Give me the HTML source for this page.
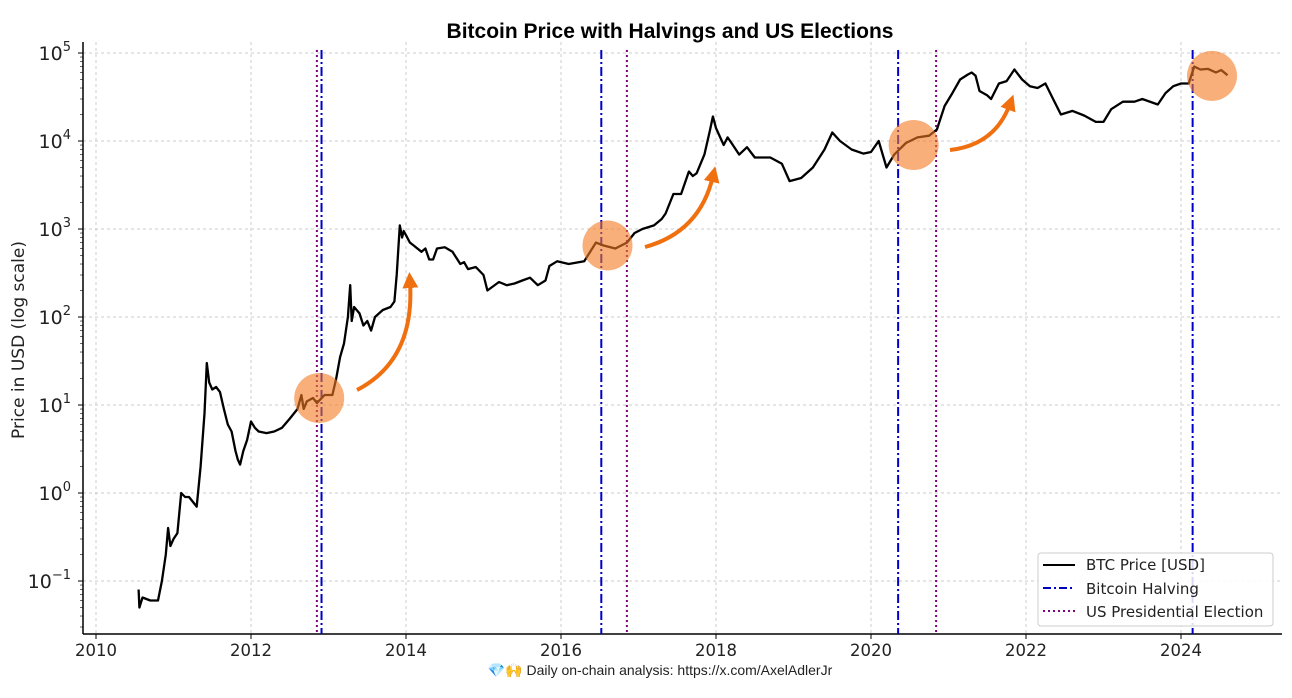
<!DOCTYPE html>
<html><head><meta charset="utf-8"><style>
body{margin:0;background:#fff;width:1292px;height:693px;overflow:hidden;font-family:"Liberation Sans","DejaVu Sans",sans-serif;}
svg text{font-family:"DejaVu Sans","Liberation Sans",sans-serif;}
</style></head><body>
<svg id="chart" width="1292" height="693" xmlns="http://www.w3.org/2000/svg">
<text x="670" y="38" text-anchor="middle" font-size="21" font-weight="bold" style="font-family:'Liberation Sans',sans-serif">Bitcoin Price with Halvings and US Elections</text>
<g id="grid"></g><g id="axes"></g><g id="marks"></g>
<text transform="translate(24,340) rotate(-90)" text-anchor="middle" font-size="17" fill="#222">Price in USD (log scale)</text>
<text x="660" y="675" text-anchor="middle" font-size="14" fill="#222" style="font-family:'Liberation Sans','Noto Sans CJK JP',sans-serif">💎🙌 Daily on-chain analysis: https://x.com/AxelAdlerJr</text>
<g>
<rect x="1038" y="553" width="235" height="73" rx="3" fill="#fff" fill-opacity="0.85" stroke="#ccc"/>
<line x1="1043" y1="565" x2="1075" y2="565" stroke="#000" stroke-width="2"/>
<text x="1086" y="570" font-size="15" fill="#222">BTC Price [USD]</text>
<line x1="1043" y1="588" x2="1075" y2="588" stroke="#0000c0" stroke-width="2" stroke-dasharray="8,3,2,3"/>
<text x="1086" y="594" font-size="15" fill="#222">Bitcoin Halving</text>
<line x1="1043" y1="611" x2="1075" y2="611" stroke="#800080" stroke-width="2" stroke-dasharray="2,3"/>
<text x="1086" y="617" font-size="15" fill="#222">US Presidential Election</text>
</g>
</svg>
<script>
const priceYears=[2010.55,2010.56,2010.6,2010.7,2010.8,2010.85,2010.9,2010.93,2010.96,2011.0,2011.05,2011.1,2011.15,2011.2,2011.3,2011.35,2011.4,2011.43,2011.46,2011.5,2011.55,2011.6,2011.65,2011.7,2011.75,2011.8,2011.83,2011.86,2011.9,2011.95,2012.0,2012.05,2012.1,2012.2,2012.3,2012.4,2012.5,2012.6,2012.65,2012.68,2012.72,2012.8,2012.85,2012.95,2013.05,2013.1,2013.15,2013.2,2013.25,2013.28,2013.3,2013.33,2013.4,2013.45,2013.5,2013.55,2013.6,2013.7,2013.8,2013.85,2013.88,2013.92,2013.95,2013.97,2014.0,2014.05,2014.1,2014.2,2014.25,2014.3,2014.35,2014.4,2014.5,2014.6,2014.7,2014.75,2014.8,2014.9,2015.0,2015.05,2015.2,2015.3,2015.4,2015.5,2015.6,2015.7,2015.8,2015.85,2015.95,2016.1,2016.3,2016.45,2016.55,2016.7,2016.85,2016.95,2017.05,2017.2,2017.3,2017.35,2017.45,2017.55,2017.65,2017.7,2017.75,2017.85,2017.92,2017.96,2018.0,2018.1,2018.15,2018.2,2018.3,2018.4,2018.5,2018.7,2018.85,2018.95,2019.1,2019.25,2019.4,2019.5,2019.6,2019.75,2019.9,2020.0,2020.1,2020.2,2020.3,2020.45,2020.6,2020.75,2020.85,2020.95,2021.05,2021.15,2021.25,2021.3,2021.35,2021.4,2021.5,2021.55,2021.65,2021.75,2021.85,2021.95,2022.05,2022.15,2022.25,2022.35,2022.45,2022.6,2022.75,2022.9,2023.0,2023.1,2023.25,2023.4,2023.5,2023.7,2023.8,2023.9,2024.0,2024.1,2024.17,2024.25,2024.35,2024.45,2024.52,2024.6];
const prices=[0.08,0.05,0.065,0.06,0.06,0.1,0.2,0.4,0.25,0.3,0.35,1.0,0.9,0.9,0.7,2,8,30,18,15,16,14,9,6,5,3,2.4,2.1,3,4,6.5,5.5,5,4.8,5,5.5,7,9,13,9,11,12,10.5,13,13,20,35,50,100,230,90,130,110,80,90,70,100,120,130,150,300,1100,800,950,850,700,650,550,600,450,450,600,620,550,400,420,350,370,300,200,250,230,240,260,280,230,260,380,430,400,430,700,650,600,700,900,1000,1100,1300,1500,2500,2500,4500,4000,4300,7000,13000,19000,14000,9000,11000,9500,7000,8500,6500,6500,5500,3500,3800,5000,8000,12500,10000,8000,7200,7500,10000,5000,7000,9500,11000,11500,13500,25000,35000,50000,57000,60000,55000,37000,33000,30000,45000,48000,65000,50000,42000,40000,45000,30000,20000,22000,19500,16500,16500,23000,28000,28000,30000,26000,35000,42000,45000,45000,70000,65000,66000,60000,64000,56000];
const xTicks=[2010,2012,2014,2016,2018,2020,2022,2024];
const yTickExps=[-1,0,1,2,3,4,5];
const halvingYears=[2012.91,2016.52,2020.35,2024.15];
const electionYears=[2012.85,2016.85,2020.84];
const highlightYears=[2012.88,2016.6,2020.55,2024.4];
const highlightPrices=[12,650,9000,55000];
const NS="http://www.w3.org/2000/svg";
const X=y=>96+(y-2010)*77.5;
const Y=p=>405-(Math.log10(p)-1)*88;
const L=83,R=1282,T=50,B=634;
function mk(tag,attrs,parent){const e=document.createElementNS(NS,tag);for(const k in attrs)e.setAttribute(k,attrs[k]);parent.appendChild(e);return e;}
const grid=document.getElementById('grid'),axes=document.getElementById('axes'),marks=document.getElementById('marks');
xTicks.forEach(t=>{const x=X(t);
 const g=mk('line',{x1:x,x2:x,y1:T-8,y2:B,stroke:'#ccc','stroke-dasharray':'3,3'},grid);
 
 
 mk('line',{x1:x,x2:x,y1:B,y2:B+5,stroke:'#000'},axes);
 const tx=mk('text',{x:x,y:B+22,'text-anchor':'middle','font-size':'16.5',fill:'#222'},axes);
 tx.textContent=t;
 
 
});
yTickExps.forEach(e=>{const y=Y(Math.pow(10,e));
 const g=mk('line',{x1:L,x2:R,y1:y,y2:y,stroke:'#ccc','stroke-dasharray':'3,3'},grid);
 
 
 mk('line',{x1:L-5,x2:L,y1:y,y2:y,stroke:'#000'},axes);
 for(let m=2;m<10;m++){const ym=Y(m*Math.pow(10,e));if(ym>T-10&&ym<B)mk('line',{x1:L-3,x2:L,y1:ym,y2:ym,stroke:'#000','stroke-width':0.6},axes);}
 for(let m=2;m<10;m++){const ym=Y(m*Math.pow(10,e-1));if(e==-1&&ym<B)mk('line',{x1:L-3,x2:L,y1:ym,y2:ym,stroke:'#000','stroke-width':0.6},axes);}
 const tx=mk('text',{x:L-12,y:y+7,'text-anchor':'end','font-size':'19',fill:'#222'},axes);
 tx.textContent='10';
 const s=mk('tspan',{dy:'-9','font-size':'13'},tx);s.textContent=(e<0?'\u2212':'')+Math.abs(e);
 
 
});
mk('line',{x1:L,x2:L,y1:T-8,y2:B,stroke:'#000','stroke-width':1.5},axes);
mk('line',{x1:L,x2:R,y1:B,y2:B,stroke:'#000','stroke-width':1.5},axes);
halvingYears.forEach(h=>{const l=mk('line',{x1:X(h),x2:X(h),y1:T,y2:B,stroke:'#0000c8','stroke-width':2,'stroke-dasharray':'9,3,2,3'},marks);
 
 });
electionYears.forEach(h=>{const l=mk('line',{x1:X(h),x2:X(h),y1:T,y2:B,stroke:'#800080','stroke-width':2,'stroke-dasharray':'2,3'},marks);
 
 });
let d='';priceYears.forEach((yr,i)=>{d+=(i?'L':'M')+X(yr).toFixed(1)+','+Y(prices[i]).toFixed(1);});
const p=mk('path',{d:d,fill:'none',stroke:'#000','stroke-width':2.3,'stroke-linejoin':'round'},marks);


highlightYears.forEach((yr,i)=>{const c=mk('ellipse',{cx:X(yr),cy:Y(highlightPrices[i]),rx:25,ry:25,fill:'#f47a20','fill-opacity':0.6},marks);
 
 });
const arrows=[[357,390,415,360,410,282],[645,247,700,232,713,176],[950,150,995,145,1010,104]];
const defs=mk('defs',{},marks);
const mkr=mk('marker',{id:'ah',markerWidth:4,markerHeight:4,refX:1.5,refY:2,orient:'auto',markerUnits:'strokeWidth'},defs);
mk('path',{d:'M0,0 L4,2 L0,4 Z',fill:'#f07010'},mkr);
arrows.forEach(a=>{const ar=mk('path',{d:`M${a[0]},${a[1]} Q${a[2]},${a[3]} ${a[4]},${a[5]}`,fill:'none',stroke:'#f07010','stroke-width':4,'marker-end':'url(#ah)'},marks);
 
 });
</script>
</body></html>
